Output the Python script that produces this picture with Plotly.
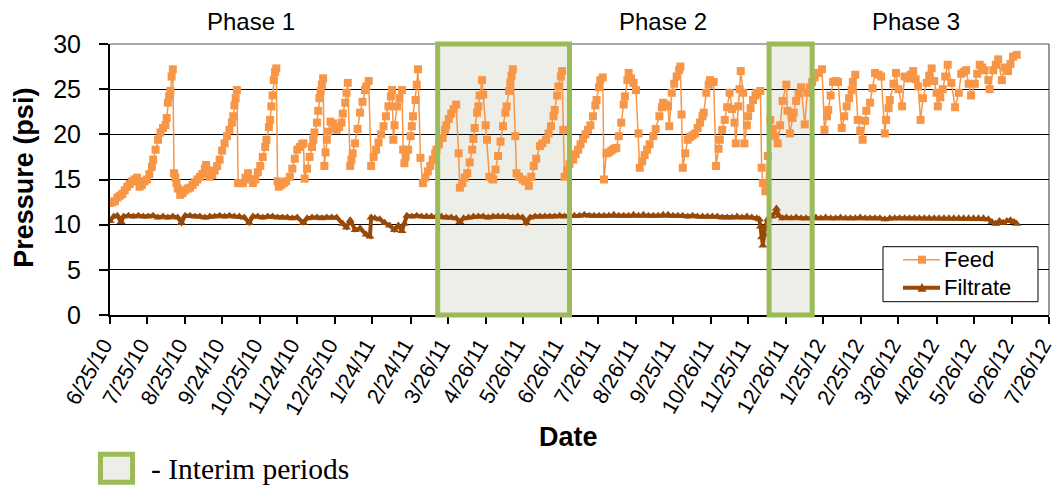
import pandas as pd
import plotly.graph_objects as go

start_date = "2010-06-25"

feed_day = [
    0, 2, 4, 6, 8, 10, 12, 14, 16, 18,
    20, 22, 23, 24, 26, 28, 30, 32, 34, 35,
    37, 39, 41, 43, 45, 46, 47, 48, 49, 50,
    51, 52, 53, 54, 55, 57, 59, 61, 63, 65,
    67, 69, 71, 73, 75, 77, 78, 79, 81, 83,
    85, 87, 89, 91, 93, 95, 97, 99, 100, 101,
    102, 103, 104, 106, 108, 110, 112, 114, 116, 118,
    120, 122, 124, 126, 127, 129, 130, 131, 132, 133,
    134, 135, 136, 137, 139, 141, 143, 146, 148, 150,
    152, 154, 156, 157, 158, 160, 162, 164, 165, 166,
    168, 169, 170, 171, 172, 173, 174, 175, 176, 177,
    179, 181, 183, 184, 186, 188, 189, 191, 192, 193,
    195, 196, 197, 199, 201, 203, 205, 207, 208, 210,
    212, 214, 216, 218, 220, 222, 224, 226, 228, 229,
    230, 231, 233, 235, 237, 238, 239, 240, 242, 244,
    245, 246, 248, 249, 250, 252, 254, 256, 258, 260,
    262, 264, 265, 267, 270, 272, 273, 275, 277, 279,
    281, 283, 284, 286, 288, 290, 292, 294, 295, 296,
    298, 299, 300, 302, 303, 305, 306, 308, 310, 311,
    313, 315, 317, 319, 321, 322, 324, 325, 326, 327,
    329, 330, 332, 335, 337, 340, 342, 344, 346, 349,
    351, 354, 356, 358, 360, 361, 363, 364, 366, 367,
    368, 369, 371, 373, 376, 378, 380, 382, 384, 386,
    388, 390, 392, 394, 395, 397, 398, 400, 401, 403,
    405, 407, 409, 411, 413, 415, 417, 418, 420, 421,
    423, 425, 427, 429, 430, 432, 434, 436, 438, 441,
    443, 446, 448, 449, 451, 453, 454, 456, 458, 460,
    462, 463, 464, 465, 467, 469, 471, 473, 475, 477,
    479, 481, 482, 484, 486, 487, 490, 492, 494, 495,
    497, 499, 501, 503, 505, 507, 508, 510, 511, 512,
    514, 515, 517, 518, 520, 522, 524, 525, 528, 529,
    530, 532, 534, 536, 538, 540, 542, 544, 546, 549,
    550, 552, 554, 555, 557, 559, 561, 564, 566, 568,
    570, 572, 575, 578, 580, 582, 583, 585, 587, 589,
    591, 594, 596, 598, 600, 602, 603, 605, 607, 609,
    611, 613, 614, 617, 619, 621, 624, 626, 629, 630,
    632, 633, 636, 638, 640, 643, 645, 648, 650, 652,
    654, 656, 658, 660, 663, 665, 667, 669, 671, 672,
    674, 676, 678, 680, 683, 686, 689, 691, 693, 695,
    697, 699, 702, 704, 706, 708, 710, 713, 714, 717,
    719, 721, 724, 726, 729, 731, 733, 736,
]
feed_psi = [
    12.4, 12.5, 12.6, 13.0, 13.2, 13.4, 13.8, 14.2, 14.5, 14.8,
    15.0, 15.2, 14.8, 14.2, 14.4, 14.8, 15.0, 15.6, 16.4, 17.2,
    18.3, 19.4, 20.2, 20.7, 21.0, 21.8, 23.5, 24.2, 24.8, 26.4,
    27.2, 15.7, 15.2, 14.6, 14.0, 13.3, 13.5, 13.8, 14.0, 14.1,
    14.4, 14.7, 15.0, 15.3, 15.6, 16.2, 16.6, 16.0, 15.3, 15.5,
    16.0, 16.5, 17.2, 18.2, 19.0, 19.8, 20.5, 21.3, 22.0, 23.2,
    24.0, 24.9, 14.6, 14.6, 14.6, 15.2, 15.7, 15.0, 14.6, 15.0,
    15.8, 16.5, 17.5, 18.6, 19.4, 20.8, 21.6, 23.1, 24.3, 26.0,
    26.9, 27.3, 14.8, 14.2, 14.4, 14.6, 14.8, 15.3, 16.2, 17.3,
    18.3, 18.6, 18.9, 19.0, 15.1, 16.2, 17.5, 18.6, 19.4, 20.2,
    21.3, 22.6, 24.0, 24.8, 25.5, 26.2, 16.5, 18.0, 19.4, 20.3,
    21.4, 21.2, 20.7, 20.5, 20.8, 21.3, 22.3, 23.5, 24.6, 25.7,
    16.5, 17.2, 17.9, 19.0, 20.6, 22.4, 23.6, 24.9, 25.3, 25.9,
    16.5, 17.5, 18.3, 19.1, 20.0, 20.9, 22.0, 23.1, 24.2, 24.9,
    19.4, 21.0, 23.1, 24.0, 24.9, 18.3, 16.8, 17.5, 18.3, 19.8,
    20.9, 22.0, 23.8, 25.5, 27.2, 17.4, 14.6, 15.2, 15.9, 16.5,
    17.2, 17.9, 18.3, 18.9, 19.6, 20.5, 21.0, 21.7, 22.3, 22.8,
    23.3, 17.9, 14.1, 14.6, 15.2, 15.7, 16.9, 18.3, 19.5, 20.7,
    22.4, 23.1, 24.3, 26.0, 24.4, 21.0, 19.4, 15.3, 15.1, 15.0,
    16.1, 17.6, 19.2, 20.9, 22.4, 23.1, 24.8, 25.7, 26.5, 27.2,
    19.8, 15.7, 15.3, 15.0, 14.8, 14.3, 15.3, 16.5, 17.3, 18.7,
    19.0, 19.4, 20.1, 20.9, 22.0, 22.7, 24.3, 25.3, 26.4, 27.0,
    20.5, 15.3, 16.0, 16.7, 17.2, 17.8, 18.3, 18.9, 19.5, 20.0,
    20.5, 21.0, 22.0, 23.2, 23.8, 25.2, 26.0, 26.3, 15.0, 17.9,
    18.0, 18.2, 18.4, 18.5, 19.8, 21.3, 23.3, 24.2, 26.0, 26.8,
    26.2, 25.7, 24.9, 20.1, 16.3, 17.0, 17.7, 18.3, 18.9, 19.8,
    20.6, 22.0, 23.0, 23.5, 23.3, 23.1, 20.9, 24.6, 25.6, 26.4,
    27.1, 27.5, 22.2, 16.3, 17.9, 19.4, 19.7, 19.9, 20.1, 20.7,
    21.3, 22.0, 22.4, 24.6, 25.5, 26.0, 25.8, 16.5, 18.4, 19.4,
    20.5, 21.6, 23.0, 24.6, 22.8, 21.3, 19.0, 23.1, 25.0, 27.0,
    24.6, 19.0, 21.0, 22.0, 22.9, 23.8, 24.3, 24.6, 24.8, 16.3,
    14.6, 13.7, 17.6, 21.6, 20.6, 19.8, 19.0, 21.0, 23.7, 25.5,
    22.6, 20.1, 21.8, 22.4, 23.7, 24.5, 25.2, 21.1, 24.6, 25.2,
    25.8, 26.3, 26.8, 27.2, 20.5, 22.0, 22.7, 24.3, 25.8, 25.9,
    25.8, 20.7, 22.0, 23.1, 24.0, 24.9, 25.8, 26.6, 21.6, 20.4,
    19.4, 21.5, 22.6, 23.5, 25.1, 26.8, 26.6, 26.4, 20.1, 21.6,
    22.9, 23.8, 25.6, 26.8, 25.0, 23.1, 26.4, 26.2, 26.6, 27.0,
    26.1, 25.3, 21.6, 24.0, 25.7, 26.5, 27.3, 25.9, 24.6, 23.1,
    24.1, 25.0, 26.4, 27.7, 25.7, 23.0, 24.6, 26.7, 26.9, 27.1,
    25.6, 24.3, 25.6, 26.7, 27.7, 27.4, 27.1, 26.0, 25.0, 27.1,
    27.7, 28.3, 26.0, 27.4, 27.0, 27.8, 28.6, 28.8,
]

filtrate_day = [0, 3, 6, 9, 11, 15, 19, 23, 27, 31, 35, 39, 43, 47, 51, 55, 58, 61, 65, 69,
                73, 77, 81, 85, 89, 93, 97, 101, 105, 109, 113, 116, 120, 124, 128, 132, 136, 140, 144, 148,
                152, 157, 160, 164, 168, 172, 176, 180, 184, 189, 192, 195, 199, 203, 208, 211, 212, 215, 219, 223,
                227, 231, 234, 237, 239, 241, 245, 249, 253, 257, 261, 265, 269, 273, 277, 281, 284, 287, 291, 295,
                299, 303, 307, 311, 315, 319, 323, 327, 331, 335, 338, 341, 345, 349, 353, 357, 361, 365, 369, 373,
                377, 381, 385, 389, 393, 397, 401, 405, 409, 413, 417, 421, 425, 429, 433, 437, 441, 445, 449, 453,
                457, 461, 465, 469, 473, 477, 481, 485, 489, 493, 497, 501, 505, 509, 513, 517, 521, 525, 527, 528,
                529, 530, 531, 532, 534, 537, 540, 541, 543, 546, 549, 553, 557, 561, 565, 569, 573, 577, 581, 585,
                589, 593, 597, 601, 605, 609, 613, 617, 621, 625, 629, 633, 637, 641, 645, 649, 653, 657, 661, 665,
                669, 673, 677, 681, 685, 689, 693, 697, 701, 705, 709, 713, 716, 719, 722, 725, 728, 731, 734, 736]
filtrate_psi = [10.4, 10.9, 11.0, 10.3, 10.9, 11.0, 10.9, 11.0, 10.9, 10.9, 11.0, 10.8, 10.9, 10.8, 10.9, 10.8, 10.2, 11.0, 11.0, 10.9,
                10.9, 10.8, 10.9, 10.9, 11.0, 10.9, 11.0, 10.9, 10.9, 10.8, 10.2, 10.9, 10.9, 10.8, 10.9, 10.9, 10.8, 10.8, 10.8, 10.7,
                10.8, 10.2, 10.7, 10.8, 10.8, 10.7, 10.8, 10.8, 10.8, 10.1, 9.7, 10.5, 9.4, 9.6, 8.9, 8.7, 10.8, 10.7, 10.6, 10.2,
                9.9, 9.4, 9.9, 9.3, 10.1, 11.0, 10.9, 11.0, 10.9, 10.9, 10.9, 10.9, 10.9, 10.8, 10.8, 10.7, 10.3, 10.7, 10.8, 10.9,
                10.9, 10.9, 10.8, 10.9, 10.9, 10.9, 10.9, 10.8, 10.9, 10.8, 10.2, 10.8, 10.9, 10.9, 10.9, 10.9, 10.9, 11.0, 10.9, 11.0,
                11.0, 11.0, 11.1, 11.0, 11.0, 11.0, 11.0, 11.0, 11.1, 11.0, 11.0, 11.0, 11.1, 11.0, 11.1, 11.0, 11.0, 11.0, 11.1, 11.1,
                11.0, 11.0, 11.0, 10.9, 11.0, 10.9, 10.9, 10.9, 10.9, 10.9, 10.8, 10.8, 10.8, 10.9, 10.8, 10.9, 10.8, 10.7, 10.6, 9.8,
                8.6, 7.7, 8.9, 9.8, 10.6, 10.9, 11.3, 11.8, 11.0, 10.7, 10.8, 10.7, 10.8, 10.7, 10.7, 10.7, 10.8, 10.7, 10.8, 10.7,
                10.7, 10.8, 10.7, 10.7, 10.7, 10.8, 10.7, 10.7, 10.7, 10.7, 10.6, 10.7, 10.7, 10.7, 10.7, 10.7, 10.7, 10.7, 10.7, 10.7,
                10.7, 10.7, 10.7, 10.7, 10.7, 10.7, 10.7, 10.7, 10.7, 10.7, 10.7, 10.6, 10.3, 10.1, 10.4, 10.2, 10.4, 10.5, 10.3, 10.1]

tick_labels = ["6/25/10", "7/25/10", "8/25/10", "9/24/10", "10/25/10", "11/24/10", "12/25/10",
               "1/24/11", "2/24/11", "3/26/11", "4/26/11", "5/26/11", "6/26/11", "7/26/11",
               "8/26/11", "9/25/11", "10/26/11", "11/25/11", "12/26/11", "1/25/12", "2/25/12",
               "3/26/12", "4/26/12", "5/26/12", "6/26/12", "7/26/12"]

interim_start = ["2011-03-18", "2011-12-12"]
interim_end = ["2011-07-03", "2012-01-16"]

phase_labels = ["Phase 1", "Phase 2", "Phase 3"]
series_names = ["Feed", "Filtrate"]

assert len(feed_day) == len(feed_psi), (len(feed_day), len(feed_psi))
assert len(filtrate_day) == len(filtrate_psi), (len(filtrate_day), len(filtrate_psi))

t0 = pd.Timestamp(start_date)
feed_x = t0 + pd.to_timedelta(feed_day, unit="D")
filtrate_x = t0 + pd.to_timedelta(filtrate_day, unit="D")
tick_vals = pd.to_datetime(tick_labels, format="%m/%d/%y")

FONT = "Liberation Sans"
GREEN = "#9BBB59"
FILL = "#ECEEE7"
FEED_C = "#F79646"
FIL_C = "#984807"

fig = go.Figure()
fig.add_trace(go.Scatter(
    x=feed_x, y=feed_psi, name=series_names[0], mode="lines+markers",
    line=dict(color=FEED_C, width=1.5),
    marker=dict(symbol="square", size=8, color=FEED_C),
))
fig.add_trace(go.Scatter(
    x=filtrate_x, y=filtrate_psi, name=series_names[1], mode="lines+markers",
    line=dict(color=FIL_C, width=4),
    marker=dict(symbol="triangle-up", size=8, color=FIL_C),
))

for s, e in zip(interim_start, interim_end):
    fig.add_shape(type="rect", xref="x", yref="paper", x0=s, x1=e, y0=0, y1=1,
                  fillcolor=FILL, line_width=0, layer="below")
# top and right frame lines
fig.add_shape(type="line", xref="paper", yref="paper", x0=0, x1=1, y0=1, y1=1,
              line=dict(color="#8C8C8C", width=1.5), layer="between")
fig.add_shape(type="line", xref="paper", yref="paper", x0=1, x1=1, y0=0, y1=1,
              line=dict(color="#555555", width=1.2), layer="between")
for s, e in zip(interim_start, interim_end):
    fig.add_shape(type="rect", xref="x", yref="paper", x0=s, x1=e, y0=0, y1=1,
                  fillcolor="rgba(0,0,0,0)", line=dict(color=GREEN, width=5), layer="above")

# interim legend key
fig.add_shape(type="rect", xref="paper", yref="paper", x0=-0.0101, x1=0.0240, y0=-0.617, y1=-0.514,
              fillcolor=FILL, line=dict(color=GREEN, width=5), layer="above")

# series legend (drawn by hand to match the reference box)
W, H, L, T = 939.0, 271.0, 110.0, 44.3


def px(xp):
    return (xp - L) / W


def py(yp):
    return (T + H - yp) / H


fig.add_shape(type="rect", xref="paper", yref="paper", x0=px(883), x1=px(1038), y0=py(302), y1=py(247),
              fillcolor="white", line=dict(color="black", width=1), layer="above")
fig.add_shape(type="line", xref="paper", yref="paper", x0=px(903), x1=px(940), y0=py(260), y1=py(260),
              line=dict(color=FEED_C, width=1.5), layer="above")
fig.add_shape(type="rect", xref="paper", yref="paper", x0=px(918), x1=px(926), y0=py(264), y1=py(256),
              fillcolor=FEED_C, line_width=0, layer="above")
fig.add_shape(type="line", xref="paper", yref="paper", x0=px(903), x1=px(940), y0=py(288), y1=py(288),
              line=dict(color=FIL_C, width=4), layer="above")
fig.add_shape(type="path", xref="paper", yref="paper",
              path=f"M{px(917.5)},{py(292)} L{px(926.5)},{py(292)} L{px(922)},{py(283)} Z",
              fillcolor=FIL_C, line_width=0, layer="above")

annotations = []
for name, yp in zip(series_names, [260, 288]):
    annotations.append(dict(text=name, x=px(942), y=py(yp), xref="paper", yref="paper",
                            xanchor="left", yanchor="middle", showarrow=False,
                            font=dict(family=FONT, size=22, color="black")))
for label, xp in zip(phase_labels, [251, 663, 916]):
    annotations.append(dict(text=label, x=px(xp), y=py(22), xref="paper", yref="paper",
                            xanchor="center", yanchor="middle", showarrow=False,
                            font=dict(family=FONT, size=24, color="black")))
annotations.append(dict(text="<b>Pressure (psi)</b>", x=px(24), y=py(178), xref="paper", yref="paper",
                        xanchor="center", yanchor="middle", textangle=-90, showarrow=False,
                        font=dict(family=FONT, size=27, color="black")))
annotations.append(dict(text="<b>Date</b>", x=px(568), y=py(437), xref="paper", yref="paper",
                        xanchor="center", yanchor="middle", showarrow=False,
                        font=dict(family=FONT, size=27, color="black")))
annotations.append(dict(text="- Interim periods", x=px(149), y=py(469), xref="paper", yref="paper",
                        xanchor="left", yanchor="middle", showarrow=False,
                        font=dict(family="Liberation Serif", size=29.5, color="black")))

fig.update_layout(
    width=1059, height=486,
    margin=dict(l=110, r=10, t=44, b=171, autoexpand=False),
    paper_bgcolor="white", plot_bgcolor="white",
    showlegend=False,
    annotations=annotations,
    font=dict(family=FONT, color="black"),
)
fig.update_xaxes(
    type="date", range=[tick_vals[0], tick_vals[-1] + pd.Timedelta(hours=6)],
    tickmode="array", tickvals=tick_vals, ticktext=tick_labels, tickangle=-60,
    tickfont=dict(family=FONT, size=21.5, color="black"), ticklabeloverflow="allow",
    ticklabelshift=-6, automargin=False,
    ticks="outside", ticklen=7, tickcolor="black", tickwidth=1.5,
    showline=True, linecolor="black", linewidth=2, showgrid=False, zeroline=False,
)
fig.update_yaxes(
    range=[0, 30], tickmode="array", tickvals=[0, 5, 10, 15, 20, 25, 30],
    tickfont=dict(family=FONT, size=25, color="black"), automargin=False,
    ticks="outside", ticklen=9, tickcolor="black", tickwidth=1.5, ticklabelstandoff=13,
    showline=True, linecolor="black", linewidth=2,
    showgrid=True, gridcolor="black", gridwidth=1, zeroline=False,
)

fig.write_html("out.html")
